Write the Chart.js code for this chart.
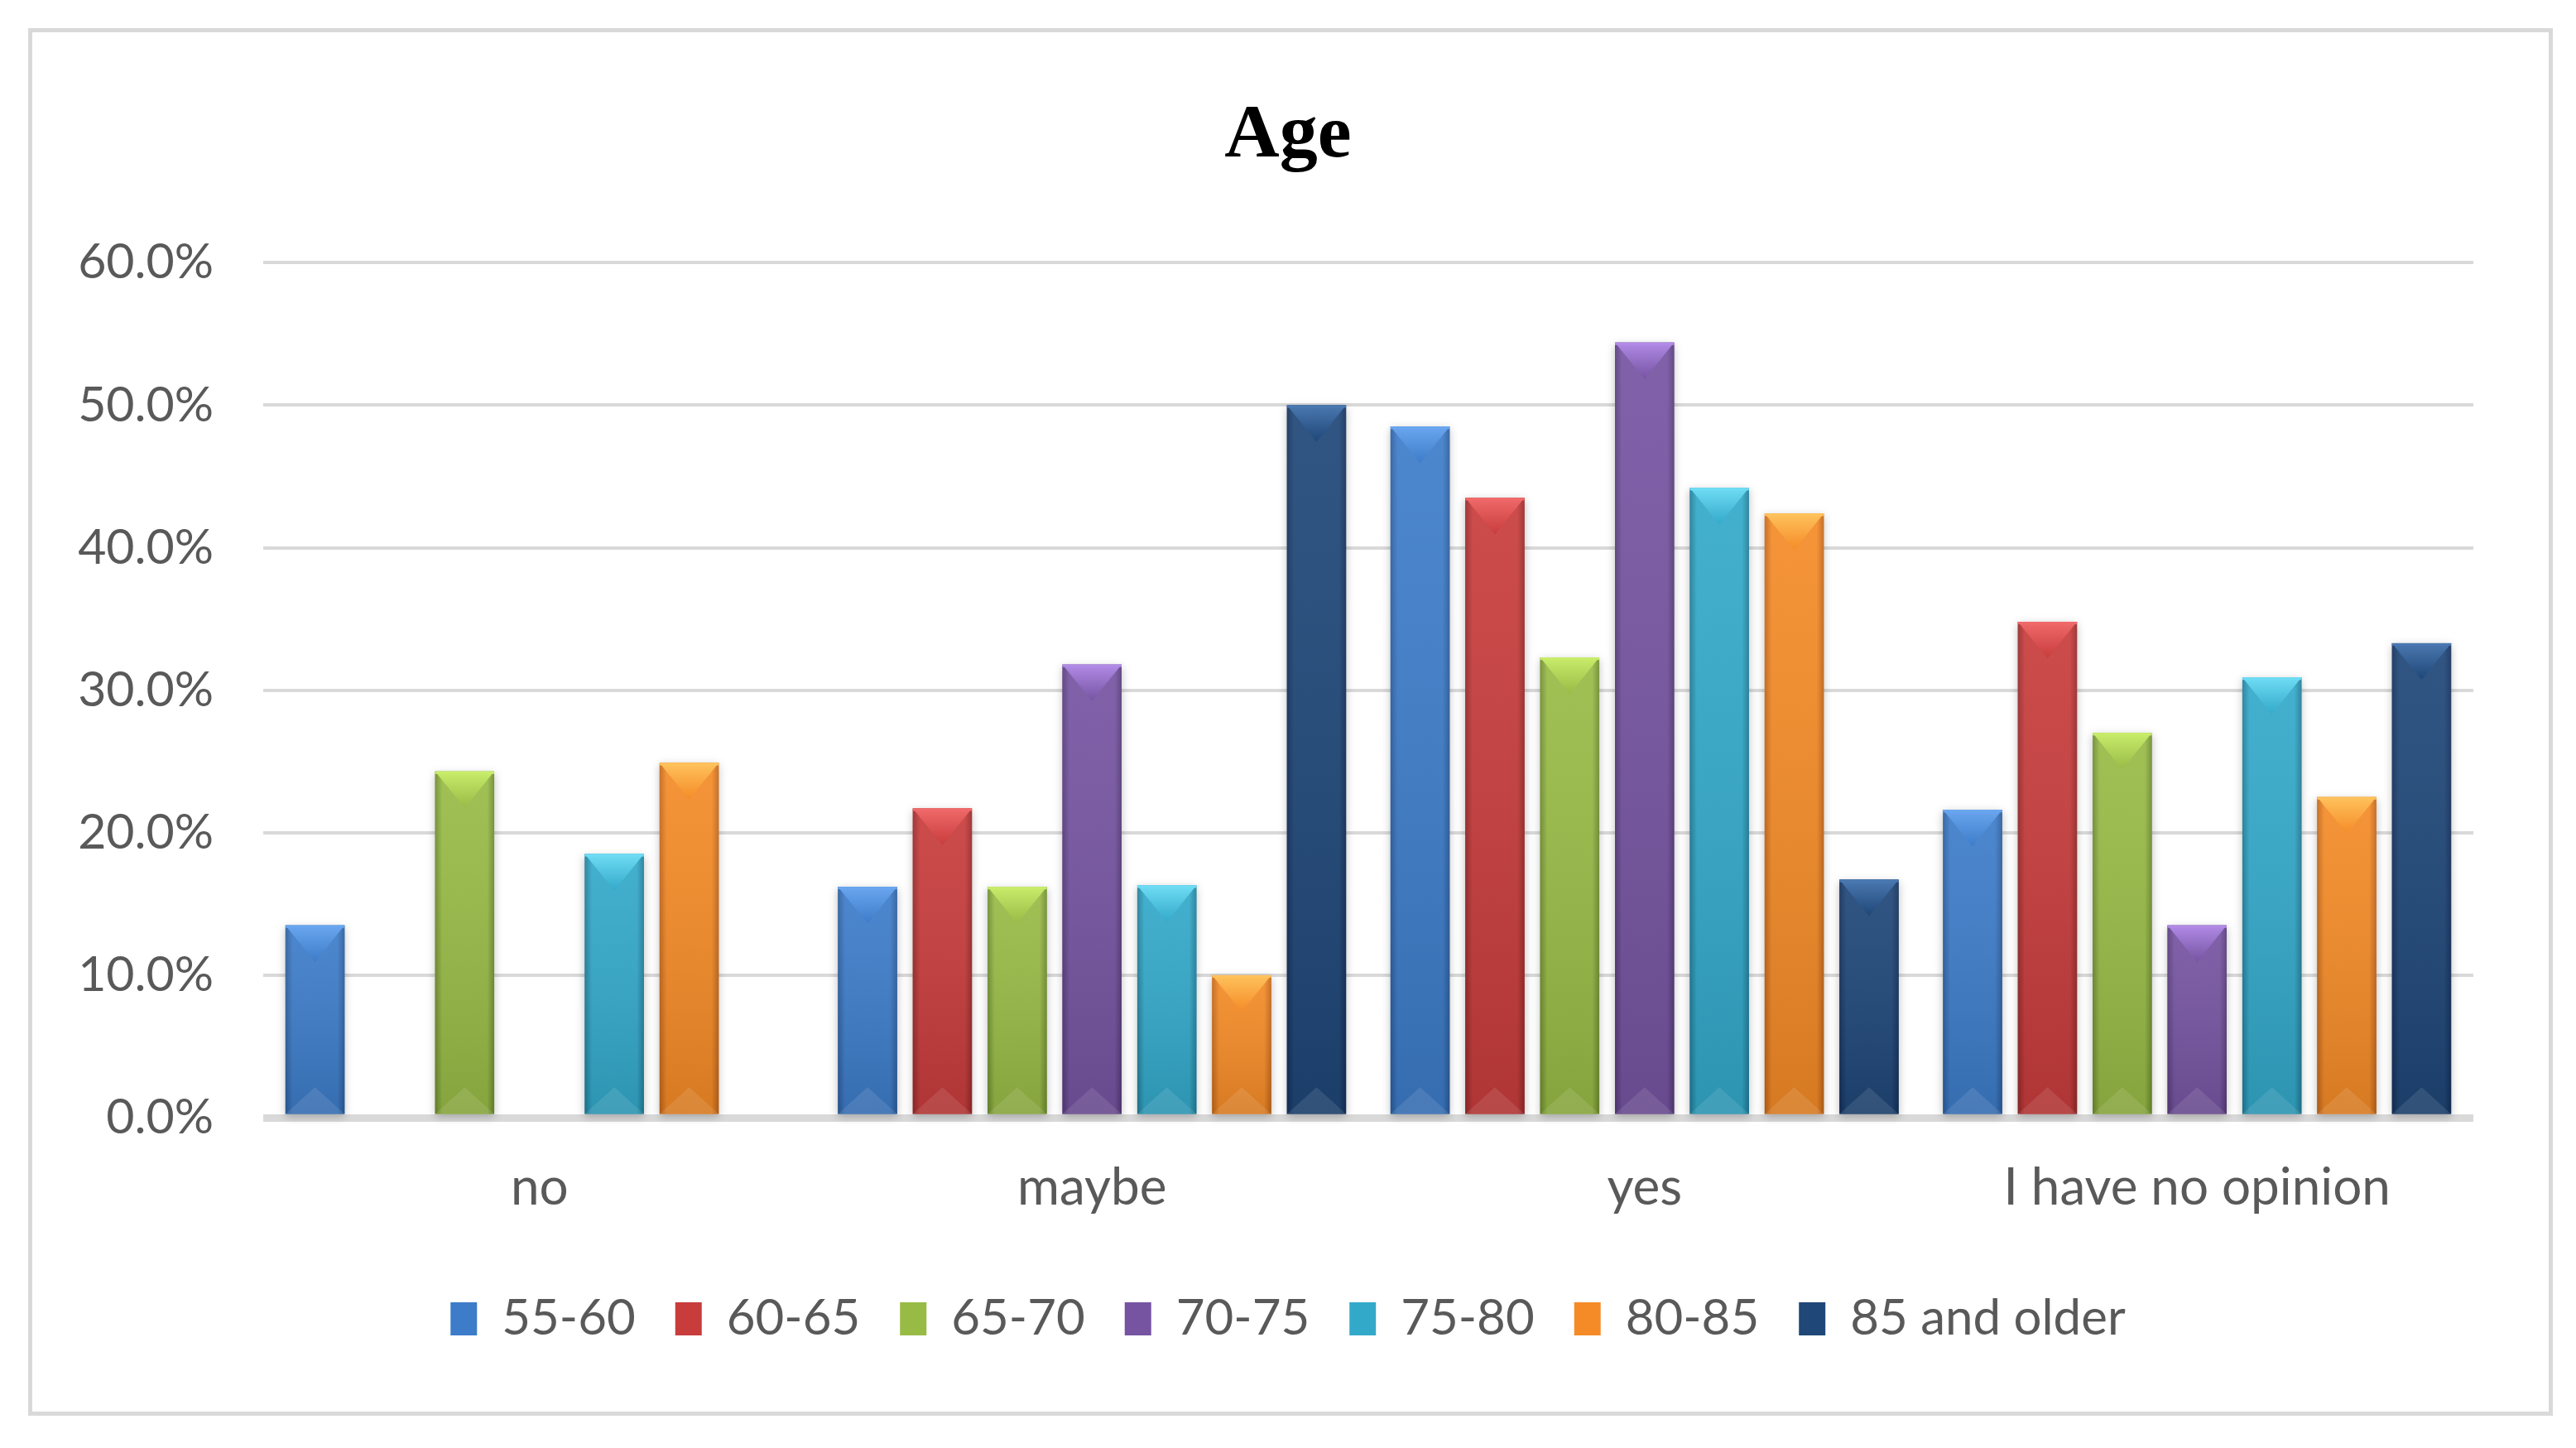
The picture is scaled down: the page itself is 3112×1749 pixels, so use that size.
<!DOCTYPE html>
<html>
<head>
<meta charset="utf-8">
<script src="https://cdn.jsdelivr.net/npm/chart.js@4.4.1/dist/chart.umd.min.js"></script>
<style>
  html, body { margin: 0; padding: 0; background: #fff; }
  #wrap { position: relative; width: 3112px; height: 1749px; }
  #frame { position: absolute; left: 34px; top: 34px; width: 3040px; height: 1666px; border: 5px solid #d9d9d9; pointer-events: none; }
  canvas { position: absolute; left: 0; top: 0; }
</style>
</head>
<body>
<div id="wrap">
  <canvas id="ageChart" width="3112" height="1749"></canvas>
  <div id="frame"></div>
</div>
<script>
"use strict";

// Data
const categories = ['no', 'maybe', 'yes', 'I have no opinion'];
const ageGroups = ['55-60', '60-65', '65-70', '70-75', '75-80', '80-85', '85 and older'];

const age55_60 = [13.5, 16.2, 48.5, 21.6];
const age60_65 = [0, 21.7, 43.5, 34.8];
const age65_70 = [24.3, 16.2, 32.3, 27.0];
const age70_75 = [0, 31.8, 54.4, 13.5];
const age75_80 = [18.5, 16.3, 44.2, 30.9];
const age80_85 = [24.9, 10.0, 42.4, 22.5];
const age85plus = [0, 50.0, 16.7, 33.3];

const yTicks = [0, 10, 20, 30, 40, 50, 60];

// base / light / dark shades per series
const palette = [
    ['#3d7cc9', '#6aa6ef', '#2c5d9c'],
    ['#c83c3c', '#f06a6a', '#962a2a'],
    ['#98bb46', '#c8ec6a', '#6f8c30'],
    ['#7654a2', '#b18ae6', '#573c7a'],
    ['#33a9ca', '#6fdcf4', '#217d98'],
    ['#f48b27', '#ffc25c', '#c2661a'],
    ['#1f4778', '#4a78b0', '#14305a']
];

const seriesValues = [age55_60, age60_65, age65_70, age70_75, age75_80, age80_85, age85plus];

const datasets = ageGroups.map((name, i) => ({
    label: name,
    data: seriesValues[i],
    backgroundColor: palette[i][0],
    borderWidth: 0
}));

// paints the bevelled look over each bar, using the bar positions from Chart.js
const bevelPlugin = {
    id: 'bevel',
    afterDatasetsDraw(chart) {
        const ctx = chart.ctx;
        chart.data.datasets.forEach((ds, i) => {
            const meta = chart.getDatasetMeta(i);
            const [base, light, dark] = palette[i];
            meta.data.forEach((bar, j) => {
                if (!ds.data[j]) return;
                const p = bar.getProps(['x', 'y', 'base', 'width'], true);
                const left = p.x - p.width / 2;
                const right = p.x + p.width / 2;
                const h = p.base - p.y;

                ctx.save();
                ctx.shadowColor = 'rgba(0,0,0,0.25)';
                ctx.shadowBlur = 10;
                ctx.shadowOffsetY = 3;
                const g = ctx.createLinearGradient(left, 0, right, 0);
                g.addColorStop(0, dark);
                g.addColorStop(0.12, base);
                g.addColorStop(0.45, base);
                g.addColorStop(0.88, base);
                g.addColorStop(1, dark);
                ctx.fillStyle = g;
                ctx.fillRect(left, p.y, p.width, h);
                ctx.restore();

                // vertical darkening towards the bottom
                ctx.save();
                const gv = ctx.createLinearGradient(0, p.y, 0, p.base);
                gv.addColorStop(0, 'rgba(255,255,255,0.08)');
                gv.addColorStop(1, 'rgba(0,0,0,0.12)');
                ctx.fillStyle = gv;
                ctx.fillRect(left, p.y, p.width, h);

                // top bevel triangle
                const tri = Math.min(p.width * 0.62, h);
                const gt = ctx.createLinearGradient(0, p.y, 0, p.y + tri);
                gt.addColorStop(0, light);
                gt.addColorStop(1, base);
                ctx.fillStyle = gt;
                ctx.beginPath();
                ctx.moveTo(left, p.y);
                ctx.lineTo(right, p.y);
                ctx.lineTo(p.x, p.y + tri);
                ctx.closePath();
                ctx.fill();

                // bottom bevel triangle
                const tb = Math.min(p.width * 0.45, h);
                ctx.fillStyle = 'rgba(255,255,255,0.10)';
                ctx.beginPath();
                ctx.moveTo(left, p.base);
                ctx.lineTo(right, p.base);
                ctx.lineTo(p.x, p.base - tb);
                ctx.closePath();
                ctx.fill();

                // thin top edge
                ctx.fillStyle = light;
                ctx.fillRect(left, p.y, p.width, 3);
                ctx.restore();
            });
        });
    }
};

Chart.defaults.font.family = 'Lato, "Open Sans", sans-serif';
Chart.defaults.color = '#595959';

const chart = new Chart(document.getElementById('ageChart').getContext('2d'), {
    type: 'bar',
    data: { labels: categories, datasets: datasets },
    plugins: [bevelPlugin],
    options: {
        responsive: false,
        devicePixelRatio: 1,
        animation: false,
        categoryPercentage: 0.948,
        barPercentage: 0.79,
        layout: { padding: { left: 0, right: 0, top: 0, bottom: 116 } },
        plugins: {
            title: {
                display: true,
                text: 'Age',
                color: '#000',
                font: { family: '"Liberation Serif", serif', size: 92, weight: 'bold' },
                padding: { top: 110, bottom: 97 }
            },
            legend: {
                position: 'bottom',
                labels: {
                    boxWidth: 32,
                    boxHeight: 40,
                    padding: 48,
                    font: { size: 60 },
                    color: '#595959'
                }
            },
            tooltip: { enabled: false }
        },
        scales: {
            x: {
                grid: { display: false, drawTicks: false },
                border: { display: false },
                ticks: { font: { size: 62 }, padding: 48, color: '#595959' },
                afterFit: (scale) => { scale.height = 165; }
            },
            y: {
                min: 0,
                max: 60,
                afterBuildTicks: (scale) => { scale.ticks = yTicks.map(v => ({ value: v })); },
                grid: {
                    drawTicks: false,
                    color: '#d9d9d9',
                    lineWidth: (c) => c.tick && c.tick.value === 0 ? 9 : 4
                },
                border: { display: false },
                ticks: {
                    font: { size: 59 },
                    padding: 60,
                    color: '#595959',
                    callback: (v) => v.toFixed(1) + '%'
                },
                afterFit: (scale) => { scale.width = 318; }
            },
            // empty right-hand spacer so the title and legend stay centred on the page
            spacer: {
                type: 'linear',
                position: 'right',
                grid: { display: false, drawTicks: false },
                border: { display: false },
                ticks: { display: false },
                afterFit: (scale) => { scale.width = 124; }
            }
        }
    }
});
</script>
</body>
</html>
